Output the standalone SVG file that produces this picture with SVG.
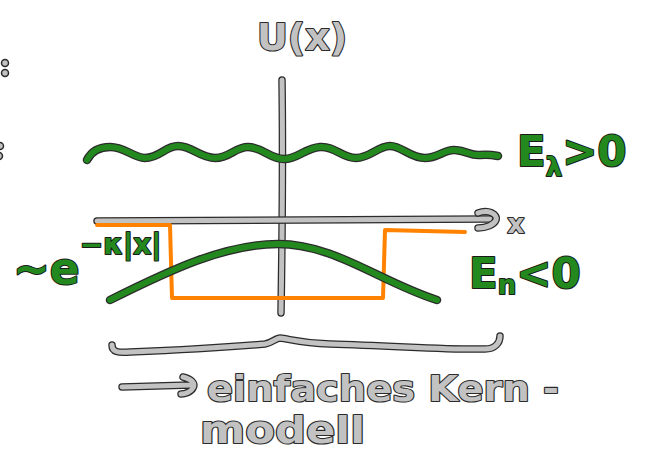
<svg xmlns="http://www.w3.org/2000/svg" xmlns:xlink="http://www.w3.org/1999/xlink" width="654" height="466" viewBox="0 0 654 466">
  <style>
    .edge { fill: none; stroke: #2b2b2b; stroke-linecap: round; stroke-linejoin: round; }
    .gray { fill: none; stroke: #c2c2c2; stroke-linecap: round; stroke-linejoin: round; }
    .green { fill: none; stroke: #23891f; stroke-linecap: round; stroke-linejoin: round; }
    .orange { fill: none; stroke: #ff8200; stroke-width: 4; stroke-linecap: round; stroke-linejoin: round; }
    .lbl-gray { fill: #c2c2c2; stroke: #2b2b2b; stroke-width: 2.2; paint-order: stroke; stroke-linejoin: round; font-family: "DejaVu Sans", "Liberation Sans", sans-serif; font-weight: bold; }
    .lbl-green { fill: #23891f; stroke: #1a1a1a; stroke-width: 2; paint-order: stroke; stroke-linejoin: round; font-family: "DejaVu Sans", "Liberation Sans", sans-serif; font-weight: bold; }
  </style>
  <defs>
    <path id="yaxis" d="M282,80 C283,150 282,250 281,313"/>
    <path id="xaxis" d="M97,221 L300,220 L490,219"/>
    <path id="xhead" d="M478,213 C488,209 498,214 496,220 C494,225 486,228 478,228"/>
    <path id="wave" d="M87,160 C92,150 100,147 110,147 C125,147 132,157 145,158 C160,158 165,146 178,146 C192,146 200,158 215,158 C230,158 235,147 248,147 C262,147 270,159 284,159 C298,159 305,148 320,147 C335,146 342,158 356,158 C370,158 378,146 390,146 C402,146 410,158 425,158 C438,158 445,149 455,150 C468,151 470,156 480,155 C488,154 493,155 498,156"/>
    <path id="bound" d="M110,300 C170,270 225,244 278,244 C335,244 380,282 437,300"/>
    <path id="brace" d="M112,345 C112,352 118,353 130,352 C180,350 230,347 265,344 C272,343 276,338 280,338 C290,339 300,343 330,344 C400,346 450,350 485,349 C495,349 500,343 500,336"/>
    <path id="arrow" d="M122,387 L190,385 M183,377 C191,379 196,383 193,388 C191,392 185,394 181,394"/>
  </defs>

  <!-- clipped colons at the left margin -->
  <g id="margin-marks">
    <circle cx="5" cy="63" r="3.5" fill="#c2c2c2" stroke="#2b2b2b" stroke-width="1.5"/>
    <circle cx="5" cy="73" r="3.5" fill="#c2c2c2" stroke="#2b2b2b" stroke-width="1.5"/>
    <circle cx="0" cy="146" r="3.5" fill="#c2c2c2" stroke="#2b2b2b" stroke-width="1.5"/>
    <circle cx="-1" cy="156" r="3.5" fill="#c2c2c2" stroke="#2b2b2b" stroke-width="1.5"/>
  </g>

  <!-- coordinate axes -->
  <g id="axes">
    <use xlink:href="#yaxis" class="edge" stroke-width="7.5"/>
    <use xlink:href="#yaxis" class="gray" stroke-width="5"/>
    <use xlink:href="#xaxis" class="edge" stroke-width="7.5"/>
    <use xlink:href="#xaxis" class="gray" stroke-width="5"/>
    <use xlink:href="#xhead" class="edge" stroke-width="7.5"/>
    <use xlink:href="#xhead" class="gray" stroke-width="5"/>
  </g>

  <!-- potential well -->
  <g id="well">
    <path class="orange" d="M97,225 L170,225 L172,298 L383,298 L385,230 L465,232"/>
  </g>

  <!-- scattering and bound states -->
  <g id="states">
    <use xlink:href="#wave" class="edge" stroke-width="8.5"/>
    <use xlink:href="#wave" class="green" stroke-width="6"/>
    <use xlink:href="#bound" class="edge" stroke-width="8.5"/>
    <use xlink:href="#bound" class="green" stroke-width="6"/>
  </g>

  <!-- labels -->
  <g id="labels">
    <text class="lbl-gray" x="302" y="50" font-size="38" text-anchor="middle">U(x)</text>
    <text class="lbl-gray" x="516" y="233" font-size="26" text-anchor="middle">x</text>
    <text class="lbl-green" x="517" y="166" font-size="42">E<tspan font-size="26" dy="10">λ</tspan><tspan dy="-10">&gt;0</tspan></text>
    <text class="lbl-green" x="13" y="284" font-size="44">~e<tspan font-size="28" dy="-30">−κ|x|</tspan></text>
    <text class="lbl-green" x="469" y="288" font-size="42">E<tspan font-size="26" dy="6">n</tspan><tspan dy="-6">&lt;0</tspan></text>
  </g>

  <!-- brace and conclusion -->
  <g id="conclusion">
    <use xlink:href="#brace" class="edge" stroke-width="7.5"/>
    <use xlink:href="#brace" class="gray" stroke-width="5"/>
    <use xlink:href="#arrow" class="edge" stroke-width="7.5"/>
    <use xlink:href="#arrow" class="gray" stroke-width="5"/>
    <text class="lbl-gray" x="207" y="401" font-size="36" textLength="352" lengthAdjust="spacingAndGlyphs">einfaches Kern -</text>
    <text class="lbl-gray" x="200" y="443" font-size="38" textLength="165" lengthAdjust="spacingAndGlyphs">modell</text>
  </g>
</svg>
